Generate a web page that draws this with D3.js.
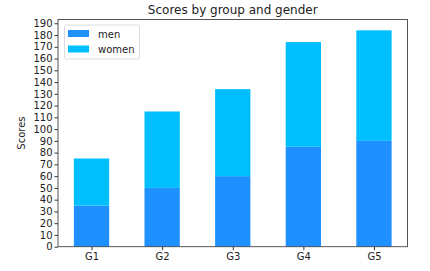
<!DOCTYPE html>
<html>
<head>
<meta charset="utf-8">
<script src="https://cdn.jsdelivr.net/npm/d3@7"></script>
<style>
  body { margin: 0; background: #fff; }
  text { font-family: "DejaVu Sans", sans-serif; fill: #222; }
</style>
</head>
<body>
<div id="chart"></div>
<script>
// scores per group
var groups = ["G1", "G2", "G3", "G4", "G5"];
var menScores = [35, 50, 60, 85, 90];
var womenScores = [40, 65, 74, 89, 94];
var yTicks = d3.range(0, 191, 10);

var W = 430, H = 271;
var mLeft = 58, mRight = 407.5, mTop = 19.5, mBottom = 246.7;

var totals = groups.map(function(g, i) { return menScores[i] + womenScores[i]; });

var x = d3.scaleLinear().domain([-0.475, groups.length - 1 + 0.475]).range([mLeft, mRight]);
var y = d3.scaleLinear().domain([0, d3.max(totals) * 1.05]).range([mBottom, mTop]);
var barW = x(0.5) - x(0);

var svg = d3.select("#chart").append("svg")
  .attr("width", W)
  .attr("height", H);

// bars
var g = svg.append("g");
g.selectAll("rect.men").data(menScores)
  .enter().append("rect")
  .attr("class", "men")
  .attr("x", function(d, i) { return x(i) - barW / 2; })
  .attr("y", function(d) { return y(d); })
  .attr("width", barW)
  .attr("height", function(d) { return y(0) - y(d); })
  .style("fill", "#1E90FF");

g.selectAll("rect.women").data(womenScores)
  .enter().append("rect")
  .attr("class", "women")
  .attr("x", function(d, i) { return x(i) - barW / 2; })
  .attr("y", function(d, i) { return y(d + menScores[i]); })
  .attr("width", barW)
  .attr("height", function(d, i) { return y(menScores[i]) - y(d + menScores[i]); })
  .style("fill", "#00BFFF");

// axes
var yAxis = d3.axisLeft(y).tickValues(yTicks).tickSize(3.5).tickPadding(2);
var yg = svg.append("g").attr("transform", "translate(" + mLeft + ",0)").call(yAxis);
yg.select(".domain").remove();
yg.selectAll("text").style("font-size", "10px").attr("fill", "#222");
yg.selectAll("line").attr("stroke", "#333");

var xAxis = d3.axisBottom(x).tickValues(d3.range(groups.length))
  .tickFormat(function(d) { return groups[d]; }).tickSize(3.5).tickPadding(3);
var xg = svg.append("g").attr("transform", "translate(0," + mBottom + ")").call(xAxis);
xg.select(".domain").remove();
xg.selectAll("text").style("font-size", "10px").attr("fill", "#222");
xg.selectAll("line").attr("stroke", "#333");

// frame
svg.append("rect")
  .attr("x", mLeft).attr("y", mTop)
  .attr("width", mRight - mLeft).attr("height", mBottom - mTop)
  .style("fill", "none").style("stroke", "#444").style("stroke-width", 0.9);

// title and label
svg.append("text")
  .attr("x", (mLeft + mRight) / 2).attr("y", 14)
  .attr("text-anchor", "middle")
  .style("font-size", "12px")
  .text("Scores by group and gender");

svg.append("text")
  .attr("transform", "translate(25," + (mTop + mBottom) / 2 + ") rotate(-90)")
  .attr("text-anchor", "middle")
  .style("font-size", "10px")
  .text("Scores");

// legend
var legend = svg.append("g");
legend.append("rect")
  .attr("x", 64.5).attr("y", 25).attr("width", 75).attr("height", 34).attr("rx", 2)
  .style("fill", "#fff").style("stroke", "#ddd");
var items = [{ name: "men", color: "#1E90FF" }, { name: "women", color: "#00BFFF" }];
items.forEach(function(it, i) {
  legend.append("rect")
    .attr("x", 68).attr("y", 30 + i * 15.5).attr("width", 21).attr("height", 7)
    .style("fill", it.color);
  legend.append("text")
    .attr("x", 98).attr("y", 37.5 + i * 15.5)
    .style("font-size", "10px")
    .text(it.name);
});
</script>
</body>
</html>
